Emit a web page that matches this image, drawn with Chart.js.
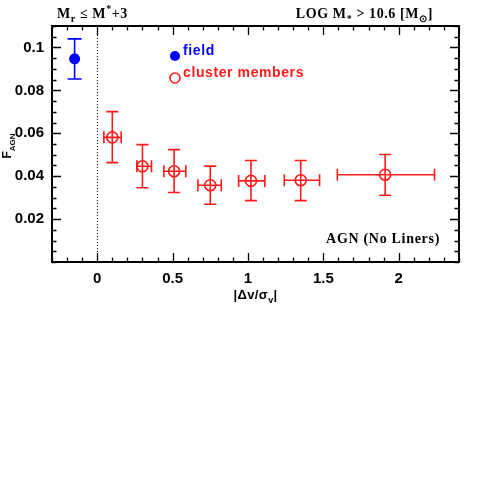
<!DOCTYPE html>
<html>
<head>
<meta charset="utf-8">
<script src="https://cdn.jsdelivr.net/npm/chart.js@4/dist/chart.umd.min.js"></script>
<style>
  body { margin: 0; background: #fff; }
  #wrap { width: 485px; height: 485px; position: relative; }
</style>
</head>
<body>
<div id="wrap"><canvas id="c"></canvas></div>
<script>
// ─── Data ────────────────────────────────────────────────────────────

const fieldX = [-0.15];
const fieldY = [0.0947];
const fieldYLo = [0.0853];
const fieldYHi = [0.104];

const clusterX = [0.10, 0.30, 0.51, 0.75, 1.02, 1.35, 1.91];
const clusterY = [0.0581, 0.0446, 0.0423, 0.0358, 0.0378, 0.0381, 0.0407];
const clusterYLo = [0.0463, 0.0346, 0.0324, 0.0269, 0.0286, 0.0286, 0.0311];
const clusterYHi = [0.0701, 0.0547, 0.0524, 0.0447, 0.0473, 0.0473, 0.0501];
const clusterXLo = [0.044, 0.263, 0.442, 0.668, 0.938, 1.241, 1.593];
const clusterXHi = [0.159, 0.360, 0.588, 0.823, 1.112, 1.475, 2.238];

const xTicks = [0, 0.5, 1, 1.5, 2];
const xTickLabels = ['0', '0.5', '1', '1.5', '2'];
const yTicks = [0.02, 0.04, 0.06, 0.08, 0.1];
const yTickLabels = ['0.02', '0.04', '0.06', '0.08', '0.1'];

const X_MIN = -0.3, X_MAX = 2.4, X_MINOR = 0.1;
const Y_MIN = 0, Y_MAX = 0.11, Y_MINOR = 0.005;

const BLUE = '#0000ff';
const RED = '#ff1a1a';
const TICK_FONT = { family: 'Liberation Sans, Arial, sans-serif', size: 15, weight: 'bold' };
const SERIF = '"Liberation Serif", "Times New Roman", serif';
const SANS = '"Liberation Sans", Arial, sans-serif';

// ─── Helpers ─────────────────────────────────────────────────────────

// parts: [{t, sub, sup}] drawn on one baseline
function drawRich(ctx, parts, x, y, size, family, align, spacing = 0) {
  ctx.letterSpacing = spacing + 'px';
  const fontFor = p => `bold ${p.sub || p.sup ? Math.round(size * 0.7) : size}px ${family}`;
  const widths = parts.map(p => {
    ctx.font = fontFor(p);
    return ctx.measureText(p.t).width;
  });
  const total = widths.reduce((a, b) => a + b, 0);
  let cx = align === 'right' ? x - total : align === 'center' ? x - total / 2 : x;
  parts.forEach((p, i) => {
    ctx.font = fontFor(p);
    const dy = p.sub ? size * 0.3 : p.sup ? -size * 0.4 : 0;
    ctx.textAlign = 'left';
    ctx.fillText(p.t, cx, y + dy);
    cx += widths[i];
  });
  ctx.letterSpacing = '0px';
}

function range(min, max, step) {
  const out = [];
  for (let v = Math.ceil(min / step - 1e-6) * step; v <= max + 1e-9; v += step) out.push(v);
  return out;
}

// ─── Plugins ─────────────────────────────────────────────────────────

const errorBars = {
  id: 'errorBars',
  beforeDatasetsDraw(chart) {
    const { ctx, scales: { x, y } } = chart;
    ctx.save();
    ctx.lineWidth = 1.6;

    function vbar(px, lo, hi, cap, color) {
      ctx.strokeStyle = color;
      const xp = x.getPixelForValue(px);
      const y0 = y.getPixelForValue(lo), y1 = y.getPixelForValue(hi);
      ctx.beginPath();
      ctx.moveTo(xp, y0); ctx.lineTo(xp, y1);
      ctx.moveTo(xp - cap, y0); ctx.lineTo(xp + cap, y0);
      ctx.moveTo(xp - cap, y1); ctx.lineTo(xp + cap, y1);
      ctx.stroke();
    }
    function hbar(py, lo, hi, cap, color) {
      ctx.strokeStyle = color;
      const yp = y.getPixelForValue(py);
      const x0 = x.getPixelForValue(lo), x1 = x.getPixelForValue(hi);
      ctx.beginPath();
      ctx.moveTo(x0, yp); ctx.lineTo(x1, yp);
      ctx.moveTo(x0, yp - cap); ctx.lineTo(x0, yp + cap);
      ctx.moveTo(x1, yp - cap); ctx.lineTo(x1, yp + cap);
      ctx.stroke();
    }

    fieldX.forEach((v, i) => vbar(v, fieldYLo[i], fieldYHi[i], 7, BLUE));
    clusterX.forEach((v, i) => {
      vbar(v, clusterYLo[i], clusterYHi[i], 6, RED);
      hbar(clusterY[i], clusterXLo[i], clusterXHi[i], 6, RED);
    });

    // dotted line at x = 0
    const x0 = Math.round(x.getPixelForValue(0)) + 0.5;
    ctx.strokeStyle = '#000';
    ctx.lineWidth = 1;
    ctx.setLineDash([1, 2]);
    ctx.beginPath();
    ctx.moveTo(x0, chart.chartArea.top);
    ctx.lineTo(x0, chart.chartArea.bottom);
    ctx.stroke();
    ctx.restore();
  },
};

const frame = {
  id: 'frame',
  afterDraw(chart) {
    const { ctx, chartArea: a, scales: { x, y } } = chart;
    ctx.save();
    ctx.strokeStyle = '#000';
    ctx.lineWidth = 1.3;
    ctx.beginPath();
    for (const v of range(X_MIN, X_MAX, X_MINOR)) {
      const major = xTicks.some(t => Math.abs(t - v) < 1e-6);
      const len = major ? 9 : 4.5;
      const px = Math.round(x.getPixelForValue(v)) + 0.5;
      ctx.moveTo(px, a.bottom); ctx.lineTo(px, a.bottom - len);
      ctx.moveTo(px, a.top); ctx.lineTo(px, a.top + len);
    }
    for (const v of range(Y_MIN, Y_MAX, Y_MINOR)) {
      const major = yTicks.some(t => Math.abs(t - v) < 1e-6);
      const len = major ? 9 : 4.5;
      const py = Math.round(y.getPixelForValue(v)) + 0.5;
      ctx.moveTo(a.left, py); ctx.lineTo(a.left + len, py);
      ctx.moveTo(a.right, py); ctx.lineTo(a.right - len, py);
    }
    ctx.stroke();
    ctx.lineWidth = 2;
    ctx.strokeRect(a.left, a.top, a.right - a.left, a.bottom - a.top);

    // header texts
    ctx.fillStyle = '#000';
    drawRich(ctx, [{ t: 'M' }, { t: 'r', sub: true }, { t: ' ≤ M' }, { t: '*', sup: true }, { t: '+3' }],
      57, 18, 14, SERIF, 'left', 0.6);
    drawRich(ctx, [{ t: 'LOG M' }, { t: '*', sub: true }, { t: ' > 10.6 [M' }, { t: '⊙', sub: true }, { t: ']' }],
      433, 18, 14, SERIF, 'right', 0.6);
    drawRich(ctx, [{ t: 'AGN (No Liners)' }], 440, 243, 14, SERIF, 'right', 0.7);

    // axis titles
    drawRich(ctx, [{ t: '|Δv/σ' }, { t: 'v', sub: true }, { t: '|' }], (a.left + a.right) / 2, 299, 13, SANS, 'center', 0.4);
    ctx.save();
    ctx.translate(11, 146);
    ctx.rotate(-Math.PI / 2);
    drawRich(ctx, [{ t: 'F' }, { t: 'AGN', sub: true }], 0, 0, 12, SANS, 'center');
    ctx.restore();

    // in-plot legend
    const lx = a.left + 123;
    ctx.fillStyle = BLUE;
    ctx.beginPath();
    ctx.arc(lx, a.top + 30, 5, 0, Math.PI * 2);
    ctx.fill();
    drawRich(ctx, [{ t: 'field' }], lx + 8, a.top + 29, 14, SANS, 'left', 0.6);
    ctx.strokeStyle = RED;
    ctx.lineWidth = 1.6;
    ctx.beginPath();
    ctx.arc(lx, a.top + 52, 5, 0, Math.PI * 2);
    ctx.stroke();
    ctx.fillStyle = RED;
    drawRich(ctx, [{ t: 'cluster members' }], lx + 8, a.top + 51, 14, SANS, 'left', 0.6);
    ctx.restore();
  },
};

// ─── Chart ───────────────────────────────────────────────────────────

new Chart(document.getElementById('c'), {
  type: 'scatter',
  data: {
    datasets: [
      {
        label: 'field',
        data: fieldX.map((v, i) => ({ x: v, y: fieldY[i] })),
        pointRadius: 5.5,
        pointBackgroundColor: BLUE,
        pointBorderColor: BLUE,
        pointBorderWidth: 0,
      },
      {
        label: 'cluster members',
        data: clusterX.map((v, i) => ({ x: v, y: clusterY[i] })),
        pointRadius: 5.5,
        pointBackgroundColor: 'rgba(0,0,0,0)',
        pointBorderColor: RED,
        pointBorderWidth: 1.6,
      },
    ],
  },
  options: {
    responsive: true,
    maintainAspectRatio: false,
    animation: false,
    layout: { padding: { top: 26, right: 26, left: 0, bottom: 0 } },
    plugins: { legend: { display: false }, tooltip: { enabled: false } },
    scales: {
      x: {
        type: 'linear',
        min: X_MIN,
        max: X_MAX,
        afterBuildTicks: s => { s.ticks = xTicks.map(v => ({ value: v })); },
        afterFit: s => { s.height = 223; },
        grid: { display: false, drawTicks: false },
        border: { display: false },
        ticks: {
          callback: (v, i) => xTickLabels[i],
          color: '#000',
          font: TICK_FONT,
          padding: 8,
          maxRotation: 0,
          autoSkip: false,
        },
      },
      y: {
        type: 'linear',
        min: Y_MIN,
        max: Y_MAX,
        afterBuildTicks: s => { s.ticks = yTicks.map(v => ({ value: v })); },
        afterFit: s => { s.width = 52; },
        grid: { display: false, drawTicks: false },
        border: { display: false },
        ticks: {
          callback: (v, i) => yTickLabels[i],
          color: '#000',
          font: TICK_FONT,
          padding: 8,
          autoSkip: false,
        },
      },
    },
  },
  plugins: [errorBars, frame],
});
</script>
</body>
</html>
